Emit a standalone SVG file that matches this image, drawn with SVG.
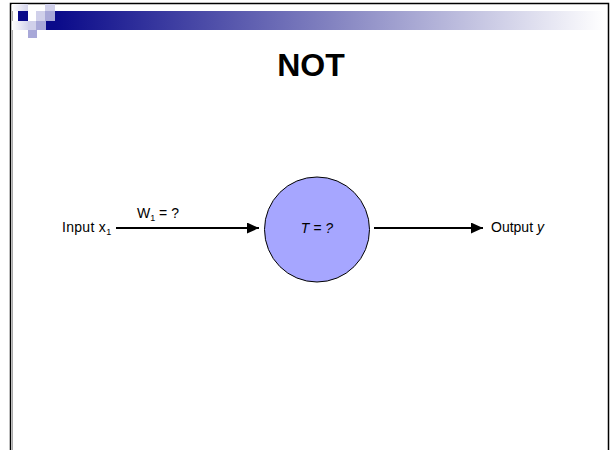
<svg xmlns="http://www.w3.org/2000/svg" width="610" height="450" viewBox="0 0 610 450">
<defs>
<linearGradient id="bar" x1="0" y1="0" x2="1" y2="0">
<stop offset="0" stop-color="#0a0a8a"/>
<stop offset="0.5" stop-color="#8282c0"/>
<stop offset="1" stop-color="#ffffff"/>
</linearGradient>
<linearGradient id="pale" x1="0" y1="0" x2="1" y2="0">
<stop offset="0" stop-color="#ffffff"/>
<stop offset="1" stop-color="#d4d4ec"/>
</linearGradient>
<marker id="ah" markerWidth="12" markerHeight="11" refX="12" refY="5.5" orient="auto" markerUnits="userSpaceOnUse">
<path d="M0,0 L12,5.5 L0,11 Z" fill="#000"/>
</marker>
<style>
.lbl{font-family:"Liberation Sans",Arial,sans-serif;font-size:14px;fill:#000}
.conn{stroke:#000;stroke-width:2;fill:none}
</style>
</defs>
<rect width="610" height="450" fill="#fff"/>
<g id="frame">
<path d="M10.5,450 V3.5 H608.5 V450" fill="none" stroke="#000" stroke-width="1.5"/>
<line x1="12.5" y1="5" x2="12.5" y2="450" stroke="#aaa" stroke-width="1"/>
</g>
<g id="decor">
<rect x="12" y="4" width="16" height="7" fill="url(#pale)"/>
<rect x="55" y="11" width="550" height="19" fill="url(#bar)"/>
<rect x="18" y="11" width="10" height="10" fill="#0a0a8a"/>
<rect x="36" y="11" width="9" height="10" fill="#d0d0ea"/>
<rect x="45" y="11" width="10" height="10" fill="#a8a8d8"/>
<rect x="45" y="4" width="10" height="7" fill="#d0d0ea"/>
<rect x="46" y="21" width="9" height="9" fill="#0a0a8a"/>
<rect x="12" y="21" width="16" height="9" fill="url(#pale)"/>
<rect x="28" y="21" width="8" height="9" fill="#d0d0ea"/>
<rect x="36" y="21" width="10" height="9" fill="#a8a8d8"/>
<rect x="28" y="30" width="9" height="8" fill="#a8a8d8"/>
</g>
<text x="311" y="76" text-anchor="middle" font-family="Liberation Sans,Arial,sans-serif" font-weight="bold" font-size="32">NOT</text>
<g id="connectors">
<line class="conn" x1="116" y1="228" x2="259" y2="228" marker-end="url(#ah)"/>
<line class="conn" x1="374" y1="228" x2="483" y2="228" marker-end="url(#ah)"/>
</g>
<g id="input">
<text class="lbl" x="62" y="232" letter-spacing="0.3">Input x<tspan font-size="9" dy="3">1</tspan></text>
<text class="lbl" x="137" y="218">W<tspan font-size="9" dy="3">1</tspan><tspan dy="-3"> = ?</tspan></text>
</g>
<g id="neuron">
<circle cx="317" cy="229.5" r="52.5" fill="#a6a6ff" stroke="#000" stroke-width="1"/>
<text class="lbl" x="317" y="233" text-anchor="middle" font-style="italic">T = ?</text>
</g>
<g id="output">
<text class="lbl" x="491" y="232">Output <tspan font-style="italic">y</tspan></text>
</g>
</svg>
